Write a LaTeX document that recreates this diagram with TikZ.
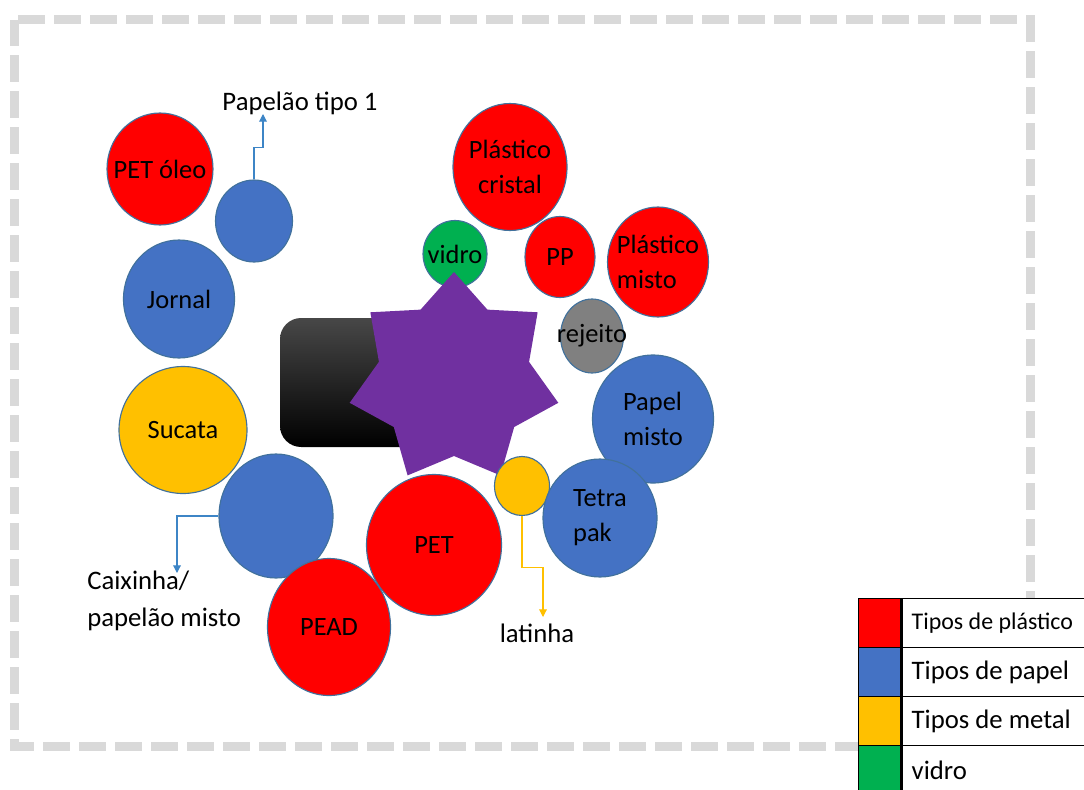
\documentclass[tikz,border=0pt]{standalone}
\usepackage{fontspec}
\setmainfont{Carlito}
\usepackage{tikz}
\usetikzlibrary{positioning, shapes.geometric, arrows.meta}
\definecolor{plred}{HTML}{FF0000}
\definecolor{papb}{HTML}{4472C4}
\definecolor{metY}{HTML}{FFC000}
\definecolor{vidg}{HTML}{00B050}
\definecolor{rejg}{HTML}{808080}
\definecolor{purp}{HTML}{7030A0}
\definecolor{bord}{HTML}{41719C}
\definecolor{arrb}{HTML}{3D85C6}
\definecolor{frame}{HTML}{D9D9D9}
\tikzset{B/.style={draw=bord, line width=0.8pt, ellipse, inner sep=0pt},
  sz/.style 2 args={minimum width=#1*0.025cm, minimum height=#2*0.025cm},
  T/.style={inner sep=0pt, font=\fontsize{18.8}{25}\selectfont, align=center},
  L/.style={inner sep=0pt, font=\fontsize{19}{26}\selectfont, align=left},
  A/.style={line width=0.8pt, -{Triangle[length=5.5pt, width=5.5pt]}}}

\begin{document}
\begin{tikzpicture}[x=0.025cm, y=-0.025cm]
\path[use as bounding box, clip] (0,0) rectangle (1084,789);
\draw[frame, line width=6.4pt, dash pattern=on 19.2pt off 6.4pt] (14.5,19.5) rectangle (1030.5,746.5);
%
\node[B, fill=vidg, sz={64}{67}, label={[T]center:vidro}] (vid) at (455,254) {};
\node[rectangle, rounded corners=15pt, sz={150}{129}, top color=black!72, middle color=black, bottom color=black] (box) at (355,382.5) {};
\node[star, star points=7, star point ratio=1.39, minimum size=214*0.025cm, inner sep=0pt, fill=purp] (hub) at (454,379) {};
%
\node[B, fill=plred, sz={106}{112}, label={[T]center:PET óleo}] (petol) at (160,169) {};
\node[B, fill=papb, sz={77}{82}] (pap1) at (254,221) {};
\node[B, fill=papb, sz={111}{118}, label={[T]center:Jornal}] (jor) at (179,299) {};
\node[B, fill=metY, sz={128}{127}, label={[T]center:Sucata}] (suc) at (183,430) {};
\node[B, fill=papb, sz={114}{124}] (caix) at (276,516) {};
\node[B, fill=plred, sz={123}{137}, label={[T]center:PEAD}] (pead) at (329,627) {};
\node[B, fill=plred, sz={135}{141}, label={[T]center:PET}] (pet) at (434,545) {};
\node[B, fill=metY, sz={55}{59}] (lat) at (522,486) {};
\node[B, fill=papb, sz={121}{128}, label={[T, align=left]center:Papel\\misto}] (pmis) at (653,419) {};
\node[B, fill=papb, sz={114}{118}, label={[T, align=left]center:Tetra\\pak}] (tetra) at (600,518) {};
\node[B, fill=rejg, sz={63}{74}, label={[T]center:rejeito}] (rej) at (592,336) {};
\node[B, fill=plred, sz={101}{110}, label={[T, align=left]center:Plástico\\misto}] (plmis) at (658,262) {};
\node[B, fill=plred, sz={70}{81}, label={[T]center:PP}] (pp) at (560,257) {};
\node[B, fill=plred, sz={114}{127}, label={[T]center:Plástico\\cristal}] (plcri) at (510,167) {};
%
\coordinate (tip1) at (263,114);
\coordinate (tip2) at (177,573);
\coordinate (tip3) at (543,617);
\node[L] (lpap1) at (300,103) {Papelão tipo 1};
\node[L, anchor=west] (lcaix) at (87,601) {Caixinha/\\papelão misto};
\node[L] (llat) at (537,633) {latinha};
\draw[A, arrb] (pap1.north) -- ++(0,-32) -| (tip1);
\draw[A, arrb] (caix.west) -| (tip2);
\draw[A, metY] (lat.south) -- ++(0,51) -| (tip3);
%
\foreach \i/\c/\s/\f in {0/plred/Tipos de plástico/17, 1/papb/Tipos de papel/19, 2/metY/Tipos de metal/19, 3/vidg/vidro/19} {
  \node[draw, line width=1pt, fill=\c, sz={42}{49}, anchor=north west, inner sep=0pt] (k\i) at (858,598+49*\i) {};
  \node[draw, line width=1pt, fill=white, sz={230}{49}, inner sep=0pt, right=0pt of k\i] (c\i) {};
  \node[inner sep=0pt, anchor=west, font=\fontsize{\f}{22}\selectfont] (t\i) at ([xshift=0.25cm]c\i.west) {\s};
}
\end{tikzpicture}
\end{document}
